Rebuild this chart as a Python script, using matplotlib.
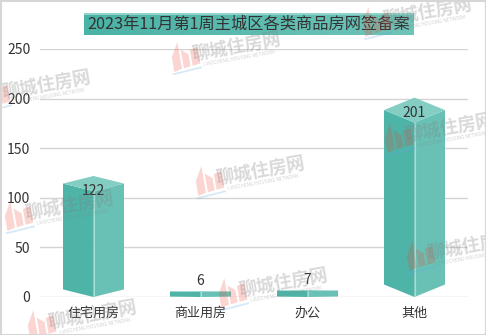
import numpy as np
import matplotlib
matplotlib.use("Agg")
import matplotlib.pyplot as plt
from matplotlib.patches import Polygon, Rectangle
from matplotlib.transforms import Affine2D

plt.rcParams['font.family'] = ['Noto Sans CJK SC', 'DejaVu Sans']

title = "2023年11月第1周主城区各类商品房网签备案"
categories = ["住宅用房", "商业用房", "办公", "其他"]
values = [122, 6, 7, 201]
yticks = [0, 50, 100, 150, 200, 250]
watermarks = [(-5, 95), (185, 57), (376, 22), (18, 216), (209, 181), (232, 293), (398, 138), (420, 256), (41, 325)]

W, H = 486, 335
fig = plt.figure(figsize=(W / 100, H / 100), dpi=100, facecolor='white')
ax = fig.add_axes([40 / W, 1 - 297 / H, 428 / W, 248 / H])
ax.set_xlim(-0.5, 3.5)
ax.set_ylim(0, 250)
ax.set_yticks(yticks)
ax.set_xticks(range(4), categories)
ax.tick_params(length=0, colors='#333333')
ax.tick_params(axis='x', pad=7, labelsize=9.4)
ax.tick_params(axis='y', pad=7, labelsize=10)
for s in ax.spines.values():
    s.set_visible(False)
ax.grid(axis='y', color='#d4d4d4', lw=1)
ax.set_axisbelow(True)
ax.patch.set_visible(False)

half = 0.285
skew_ratio = 0.0625
for i, v in enumerate(values):
    k = skew_ratio * v
    ax.add_patch(Polygon([(i - half, k), (i, 0), (i, v - 2 * k), (i - half, v - k)], fc='#4eb4a8', ec='none', zorder=3))
    ax.add_patch(Polygon([(i, 0), (i + half, k), (i + half, v - k), (i, v - 2 * k)], fc='#69c1b6', ec='none', zorder=3))
    ax.add_patch(Polygon([(i - half, v - k), (i, v), (i + half, v - k), (i, v - 2 * k)], fc='#83cdc3', ec='none', zorder=3))
    ax.plot([i, i], [0, v - 2 * k], color='#a5dcd4', lw=0.8, zorder=4)
    offset = -11 if v > 50 else 7.5
    ax.annotate(str(v), (i, v), xytext=(0, offset), textcoords='offset points', ha='center', va='center',
                fontsize=10, color='#333333', zorder=7)

ov = fig.add_axes([0, 0, 1, 1], zorder=5)
ov.axis('off')
ov.patch.set_visible(False)

grad = np.linspace(0, 1, 256).reshape(1, -1)
cols = np.array([0x4b, 0xb2, 0xa6]) * (1 - grad[..., None]) + np.array([0x6f, 0xc4, 0xb9]) * grad[..., None]
ov.imshow(cols.astype(np.uint8), extent=(84, 413, 35, 13), aspect='auto', zorder=1, interpolation='bilinear')
ov.add_patch(Rectangle((84, 13), 329, 2, fc='#8fd3ca', ec='none', zorder=1.5))
ov.set_xlim(0, W)
ov.set_ylim(H, 0)
ov.text(248.5, 24, title, ha='center', va='center', fontsize=11.7, color='#333333', zorder=2)

for (lx, ly) in watermarks:
    t = Affine2D().rotate_deg(-10).translate(lx, ly) + ov.transData
    ov.add_patch(Polygon([(-13, 13), (-13, -2), (-5, -16), (-5, 11)], fc='#f04030', alpha=0.22, ec='none', transform=t, zorder=6))
    ov.add_patch(Polygon([(-3, 11), (-3, -8), (4, -2), (4, 10)], fc='#f04030', alpha=0.22, ec='none', transform=t, zorder=6))
    ov.add_patch(Polygon([(6, 10), (6, -6), (14, -8), (14, 9)], fc='#f04030', alpha=0.22, ec='none', transform=t, zorder=6))
    ov.plot([-14, 14], [15, 13], color='#60a8e0', alpha=0.25, lw=1.3, transform=t, zorder=6)
    ov.text(lx + 52, ly - 10, "聊城住房网", rotation=10, ha='center', va='center', rotation_mode='anchor',
            fontsize=13, fontweight='bold', color='#808080', alpha=0.3, zorder=6)
    ov.text(lx + 54, ly + 1, "LIAOCHENG HOUSING NETWORK", rotation=10, ha='center', va='center', rotation_mode='anchor',
            fontsize=3.4, color='#808080', alpha=0.35, zorder=6)

ov.add_patch(Rectangle((0.5, 0.5), W - 1, H - 1, fc='none', ec='#d6d6d6', lw=1.5, zorder=8))

fig.savefig('out.png', dpi=100)
